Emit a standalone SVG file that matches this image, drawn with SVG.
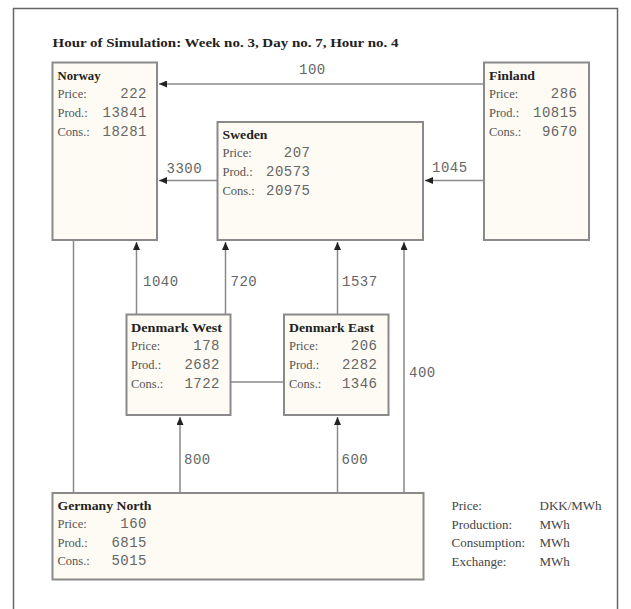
<svg xmlns="http://www.w3.org/2000/svg" width="631" height="609" viewBox="0 0 631 609">
<style>
.frame{fill:#fff;stroke:#666;stroke-width:1.5}
.box{fill:#fdfbf3;stroke:#8a8a8a;stroke-width:2}
.ln{fill:none;stroke:#8a8a8a;stroke-width:1.5}
.title{font-family:"Liberation Serif",serif;font-weight:bold;font-size:12.5px;fill:#222}
.name{font-family:"Liberation Serif",serif;font-weight:bold;font-size:13px;fill:#222}
.lab{font-family:"Liberation Serif",serif;font-size:12.5px;fill:#555}
.val{font-family:"Liberation Mono",monospace;font-size:14px;letter-spacing:0.5px;fill:#666;text-anchor:end}
.el{font-family:"Liberation Mono",monospace;font-size:14px;letter-spacing:0.5px;fill:#666}
.leg{font-family:"Liberation Serif",serif;font-size:13px;fill:#444}
</style>
<defs>
<marker id="ah" markerUnits="userSpaceOnUse" markerWidth="8" markerHeight="7" viewBox="0 0 8 7" refX="8" refY="3.5" orient="auto">
<path d="M0,0 L8,3.5 L0,7 z" fill="#222"/>
</marker>
</defs>
<rect class="frame" x="13.5" y="8.5" width="604" height="620"/>
<text class="title" x="52.5" y="47" textLength="346" lengthAdjust="spacingAndGlyphs">Hour of Simulation: Week no. 3, Day no. 7, Hour no. 4</text>

<g id="connectors">
<path class="ln" d="M484,84 H159" marker-end="url(#ah)"/>
<path class="ln" d="M217.5,180.5 H159" marker-end="url(#ah)"/>
<path class="ln" d="M484,180.5 H425" marker-end="url(#ah)"/>
<path class="ln" d="M136.5,314 V242" marker-end="url(#ah)"/>
<path class="ln" d="M225.5,314 V242" marker-end="url(#ah)"/>
<path class="ln" d="M337.5,314 V242" marker-end="url(#ah)"/>
<path class="ln" d="M404,493 V242" marker-end="url(#ah)"/>
<path class="ln" d="M73.5,493 V240"/>
<path class="ln" d="M230.5,382 H284"/>
<path class="ln" d="M180,493 V417" marker-end="url(#ah)"/>
<path class="ln" d="M337.5,493 V417" marker-end="url(#ah)"/>
<text class="el" x="299" y="74">100</text>
<text class="el" x="166.5" y="172.5">3300</text>
<text class="el" x="432" y="172">1045</text>
<text class="el" x="143" y="286">1040</text>
<text class="el" x="230.5" y="286">720</text>
<text class="el" x="342" y="286">1537</text>
<text class="el" x="409" y="377">400</text>
<text class="el" x="184" y="464">800</text>
<text class="el" x="341.5" y="464">600</text>
</g>

<g id="norway">
<rect class="box" x="52.5" y="62.5" width="104.5" height="177.5"/>
<text class="name" x="57.5" y="80" textLength="43" lengthAdjust="spacingAndGlyphs">Norway</text>
<text class="lab" x="57.5" y="97.5">Price:</text>
<text class="lab" x="57.5" y="116.5">Prod.:</text>
<text class="lab" x="57.5" y="135.5">Cons.:</text>
<text class="val" x="147" y="97.5">222</text>
<text class="val" x="147" y="116.5">13841</text>
<text class="val" x="147" y="135.5">18281</text>
</g>

<g id="finland">
<rect class="box" x="484" y="62.5" width="105" height="177.5"/>
<text class="name" x="489" y="80" textLength="46" lengthAdjust="spacingAndGlyphs">Finland</text>
<text class="lab" x="489" y="97.5">Price:</text>
<text class="lab" x="489" y="116.5">Prod.:</text>
<text class="lab" x="489" y="135.5">Cons.:</text>
<text class="val" x="577.5" y="97.5">286</text>
<text class="val" x="577.5" y="116.5">10815</text>
<text class="val" x="577.5" y="135.5">9670</text>
</g>

<g id="sweden">
<rect class="box" x="217.5" y="122" width="205.5" height="118"/>
<text class="name" x="222.5" y="139" textLength="45" lengthAdjust="spacingAndGlyphs">Sweden</text>
<text class="lab" x="222.5" y="157">Price:</text>
<text class="lab" x="222.5" y="176">Prod.:</text>
<text class="lab" x="222.5" y="195">Cons.:</text>
<text class="val" x="310.5" y="157">207</text>
<text class="val" x="310.5" y="176">20573</text>
<text class="val" x="310.5" y="195">20975</text>
</g>

<g id="denmark-west">
<rect class="box" x="126.5" y="314.5" width="104" height="100.5"/>
<text class="name" x="131" y="331.5" textLength="91" lengthAdjust="spacingAndGlyphs">Denmark West</text>
<text class="lab" x="131" y="349.5">Price:</text>
<text class="lab" x="131" y="368.5">Prod.:</text>
<text class="lab" x="131" y="387.5">Cons.:</text>
<text class="val" x="220" y="349.5">178</text>
<text class="val" x="220" y="368.5">2682</text>
<text class="val" x="220" y="387.5">1722</text>
</g>

<g id="denmark-east">
<rect class="box" x="284" y="314.5" width="104.5" height="100.5"/>
<text class="name" x="289" y="331.5" textLength="85" lengthAdjust="spacingAndGlyphs">Denmark East</text>
<text class="lab" x="289" y="349.5">Price:</text>
<text class="lab" x="289" y="368.5">Prod.:</text>
<text class="lab" x="289" y="387.5">Cons.:</text>
<text class="val" x="377.5" y="349.5">206</text>
<text class="val" x="377.5" y="368.5">2282</text>
<text class="val" x="377.5" y="387.5">1346</text>
</g>

<g id="germany-north">
<rect class="box" x="52.5" y="493" width="371" height="86.5"/>
<text class="name" x="57.5" y="509.5" textLength="94" lengthAdjust="spacingAndGlyphs">Germany North</text>
<text class="lab" x="57.5" y="527.5">Price:</text>
<text class="lab" x="57.5" y="546.5">Prod.:</text>
<text class="lab" x="57.5" y="565">Cons.:</text>
<text class="val" x="147" y="527.5">160</text>
<text class="val" x="147" y="546.5">6815</text>
<text class="val" x="147" y="565">5015</text>
</g>

<g id="legend">
<text class="leg" x="451.5" y="510">Price:</text>
<text class="leg" x="451.5" y="528.5">Production:</text>
<text class="leg" x="451.5" y="547">Consumption:</text>
<text class="leg" x="451.5" y="565.5">Exchange:</text>
<text class="leg" x="539.5" y="510">DKK/MWh</text>
<text class="leg" x="539.5" y="528.5">MWh</text>
<text class="leg" x="539.5" y="547">MWh</text>
<text class="leg" x="539.5" y="565.5">MWh</text>
</g>
</svg>
